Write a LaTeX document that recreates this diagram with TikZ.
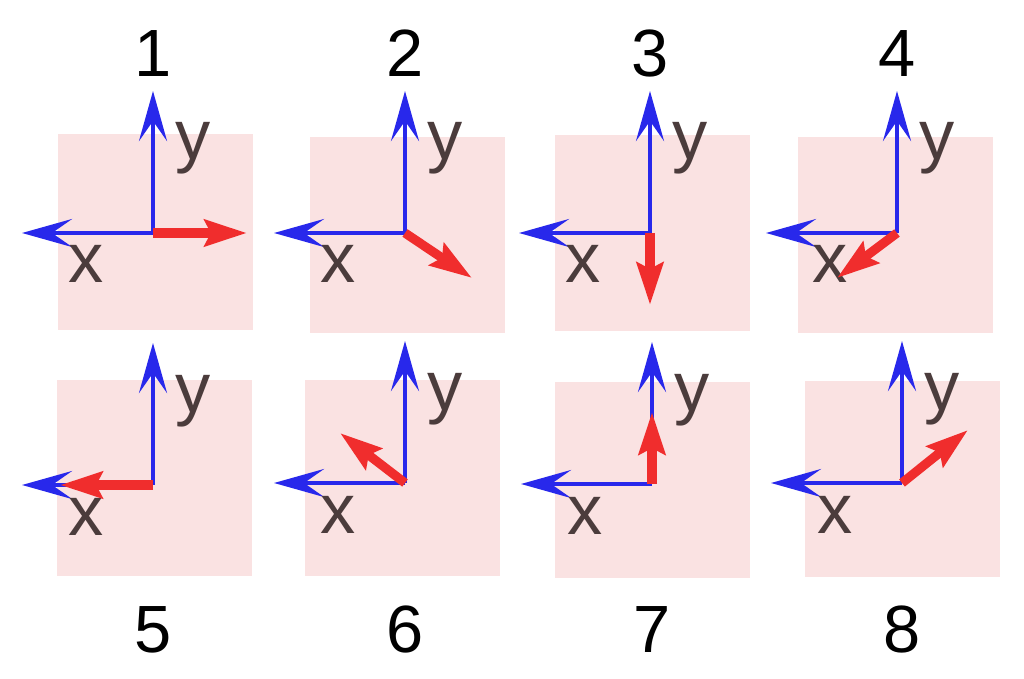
\documentclass[tikz,border=0pt]{standalone}
\usepackage{fontspec}
\setmainfont{Liberation Sans}
\usepackage{tikz}
\usetikzlibrary{arrows.meta}
\definecolor{axblue}{RGB}{40,40,235}
\definecolor{vecred}{RGB}{240,45,45}
\definecolor{panelbg}{RGB}{250,226,226}
\definecolor{labgray}{RGB}{75,60,60}
\tikzset{
  axis/.style={-{Stealth[length=5mm, width=2.8mm, inset=2mm]}, line width=1.4pt, draw=axblue},
  vec/.style={-{Stealth[length=4.2mm, width=2.6mm, inset=0.6mm]}, line width=2.6pt, draw=vecred},
  axlab/.style={inner sep=0pt, anchor=base, text=labgray, font=\fontsize{20}{20}\selectfont},
  num/.style={inner sep=0pt, anchor=base, text=black, font=\fontsize{19}{19}\selectfont},
}

\begin{document}
\begin{tikzpicture}[x=0.01cm, y=-0.01cm]
  \useasboundingbox (0,0) rectangle (1024,679);
  % panel / origin / square corner / red tip / number baseline
  \foreach \n/\ox/\oy/\sx/\sy/\rx/\ry/\ny in {
      1/153/233/58/134/247/233/77,
      2/405/233/310/137/472/278/77,
      3/650/233/555/135/650/305/77,
      4/897/233/798/137/837/278/77,
      5/153/485/57/380/60/485/652,
      6/405/483/305/380/340/433/652,
      7/652/484/555/382/652/412/652,
      8/902/483/805/381/968/430/652}{
    \fill[panelbg] (\sx,\sy) rectangle ++(195,196);
    \coordinate (o\n) at (\ox,\oy);
    \coordinate (xtip\n) at (\ox-131,\oy);
    \coordinate (ytip\n) at (\ox,\oy-142);
    \coordinate (r\n) at (\rx,\ry);
    \draw[axis] (o\n) -- (xtip\n);
    \draw[axis] (o\n) -- (ytip\n);
    \node[axlab] (ylab\n) at (\ox+40,\oy-73) {y};
    \node[axlab] (xlab\n) at (\ox-67,\oy+50) {x};
    \draw[vec] (o\n) -- (r\n);
    \node[num] (num\n) at (\ox,\ny) {\n};
  }
\end{tikzpicture}
\end{document}
